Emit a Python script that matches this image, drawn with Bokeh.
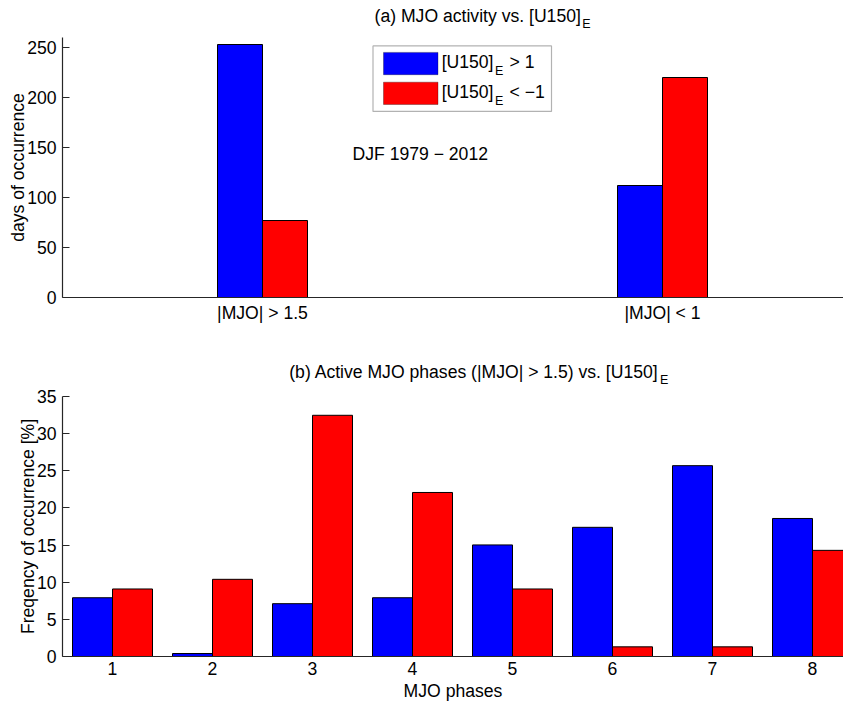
from bokeh.plotting import figure
from bokeh.models import Range1d, FixedTicker, Label, BoxAnnotation, ColumnDataSource
from bokeh.transform import dodge
from bokeh.layouts import column
from bokeh.embed import file_html
from bokeh.resources import INLINE

# ---------------- data ----------------
categories_a = ["|MJO| > 1.5", "|MJO| < 1"]
cat_pos_a = [1, 2]
days_pos = [253, 112]    # [U150]_E > 1   (blue)
days_neg = [77, 220]     # [U150]_E < -1  (red)
yticks_a = [0, 50, 100, 150, 200, 250]

phases = [1, 2, 3, 4, 5, 6, 7, 8]
freq_pos = [7.91, 0.40, 7.11, 7.91, 15.02, 17.39, 25.69, 18.58]
freq_neg = [9.09, 10.39, 32.47, 22.08, 9.09, 1.30, 1.30, 14.29]
yticks_b = [0, 5, 10, 15, 20, 25, 30, 35]

title_a = "(a) MJO activity vs. [U150]"
title_b = "(b) Active MJO phases (|MJO| > 1.5) vs. [U150]"
series_labels = ["> 1", "< \u22121"]
note_text = "DJF 1979 \u2212 2012"

BLUE = "#0000ff"
RED = "#ff0000"
AXC = "#262626"
FONT = "Liberation Sans"
FS = "17.6px"
SUB_FS = "12.5px"

# ---------------- layout constants (pixels) ----------------
W = 843
FRAME_L = 62
FRAME_W = W - FRAME_L
AX1_PX = 260   # frame height of panel (a)
AX2_PX = 260   # frame height of panel (b)


def label(p, x, y, text, size=FS, align="left"):
    p.add_layout(Label(x=x, y=y, text=text, text_font=FONT, text_font_size=size,
                       text_color="black", text_baseline="alphabetic", text_align=align))


def title_fig(height, y_bottom):
    # y range expressed in reference page pixels (flipped so y grows downward)
    t = figure(width=W, height=height, x_range=Range1d(8, 8 + W),
               y_range=Range1d(y_bottom, y_bottom - height),
               x_axis_type=None, y_axis_type=None, output_backend="svg",
               toolbar_location=None, min_border=0)
    t.outline_line_color = None
    t.xgrid.grid_line_color = None
    t.ygrid.grid_line_color = None
    return t


# ---------------- title (a) ----------------
tA = title_fig(37, 45)
label(tA, 567.5, 23, title_a, align="right")
label(tA, 569, 31.5, "E", SUB_FS)

# ---------------- panel (a) ----------------
X1 = (0.5, 0.5 + FRAME_W / 400)
Y1 = (0, 260)
p1 = figure(frame_width=FRAME_W, frame_height=AX1_PX, x_range=Range1d(*X1), y_range=Range1d(*Y1),
            output_backend="svg", toolbar_location=None,
            min_border_left=FRAME_L, min_border_right=0, min_border_top=0, min_border_bottom=39)

src_a = ColumnDataSource(dict(x=cat_pos_a, pos=days_pos, neg=days_neg))
BW1 = 0.1125
p1.vbar(x=dodge("x", -BW1 / 2, range=p1.x_range), top="pos", width=BW1, source=src_a,
        fill_color=BLUE, line_color="black", line_width=1)
p1.vbar(x=dodge("x", BW1 / 2, range=p1.x_range), top="neg", width=BW1, source=src_a,
        fill_color=RED, line_color="black", line_width=1)

# ---------------- title (b) ----------------
tB = title_fig(50, 402)
label(tB, 651.5, 387.5, title_b, align="right")
label(tB, 653, 395.5, "E", SUB_FS)

# ---------------- panel (b) ----------------
X2 = (0.5, 0.5 + FRAME_W / 100)
Y2 = (0, 35)
p2 = figure(frame_width=FRAME_W, frame_height=AX2_PX, x_range=Range1d(*X2), y_range=Range1d(*Y2),
            output_backend="svg", toolbar_location=None,
            min_border_left=FRAME_L, min_border_right=0, min_border_top=10, min_border_bottom=48)

src_b = ColumnDataSource(dict(x=phases, pos=freq_pos, neg=freq_neg))
BW2 = 0.4
p2.vbar(x=dodge("x", -BW2 / 2, range=p2.x_range), top="pos", width=BW2, source=src_b,
        fill_color=BLUE, line_color="black", line_width=1)
p2.vbar(x=dodge("x", BW2 / 2, range=p2.x_range), top="neg", width=BW2, source=src_b,
        fill_color=RED, line_color="black", line_width=1)

# ---------------- axes styling ----------------
for p in (p1, p2):
    p.outline_line_color = None
    p.xgrid.grid_line_color = None
    p.ygrid.grid_line_color = None
    p.background_fill_color = "white"
    p.border_fill_color = "white"
    for ax in (p.xaxis[0], p.yaxis[0]):
        ax.axis_line_color = AXC
        ax.axis_line_width = 1.2
        ax.major_tick_line_color = AXC
        ax.minor_tick_line_color = None
        ax.major_label_text_font = FONT
        ax.major_label_text_font_size = FS
        ax.major_label_text_color = "black"
        ax.axis_label_text_font = FONT
        ax.axis_label_text_font_size = FS
        ax.axis_label_text_font_style = "normal"
        ax.axis_label_text_color = "black"
    p.yaxis.major_tick_in = 7
    p.yaxis.major_tick_out = 0
    p.yaxis.major_label_standoff = 6
    p.yaxis.axis_label_standoff = -4
    p.xaxis.major_tick_in = 0
    p.xaxis.major_tick_out = 0
    p.xaxis.major_label_standoff = 5

p1.xaxis.ticker = FixedTicker(ticks=cat_pos_a)
p1.xaxis.major_label_overrides = {k: v for k, v in zip(cat_pos_a, categories_a)}
p1.yaxis.ticker = FixedTicker(ticks=yticks_a)
p1.yaxis.axis_label = "days of occurrence"

p2.xaxis.ticker = FixedTicker(ticks=phases)
p2.yaxis.ticker = FixedTicker(ticks=yticks_b)
p2.yaxis.axis_label = "Freqency of occurrence [%]"
p2.xaxis.axis_label = "MJO phases"
p2.xaxis.axis_label_standoff = 3


# ---------------- legend and note in panel (a): reference pixels -> data ----------------
def d1(px, py):
    return (X1[0] + (px - 70) / 400, (307 - py) * 260 / 262)


l, t = d1(380.5, 53.5)
r, b = d1(559, 119.5)
p1.add_layout(BoxAnnotation(left=l, right=r, top=t, bottom=b, fill_color="white", fill_alpha=1,
                            line_color="black", line_width=1.2))
for i, (col, lbl) in enumerate(zip([BLUE, RED], series_labels)):
    off = 30 * i
    l, t = d1(391, 60 + off)
    r, b = d1(445.5, 82.5 + off)
    p1.add_layout(BoxAnnotation(left=l, right=r, top=t, bottom=b, fill_color=col, fill_alpha=1,
                                line_color="black", line_width=1))
    x, y = d1(501, 70 + off)
    label(p1, x, y, "[U150]", align="right")
    x, y = d1(502.5, 78.5 + off)
    label(p1, x, y, "E", SUB_FS)
    x, y = d1(517, 70 + off)
    label(p1, x, y, lbl)

x, y = d1(360, 162)
label(p1, x, y, note_text)

layout = column(tA, p1, tB, p2, spacing=0)
open("out.html", "w").write(file_html(layout, INLINE))
